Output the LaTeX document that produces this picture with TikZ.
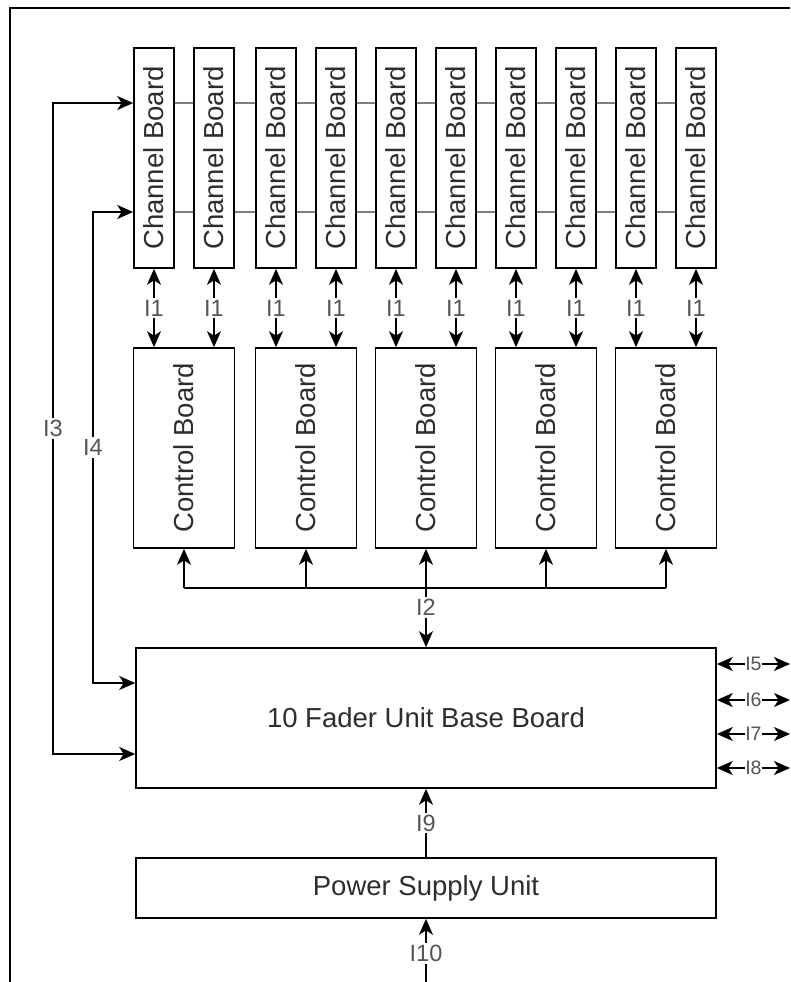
\documentclass[tikz,border=0pt]{standalone}
\usepackage{fontspec}
\setmainfont{Liberation Sans}
\usepackage{graphicx}
\usetikzlibrary{arrows.meta,positioning,calc}
\definecolor{TextGray}{RGB}{45,45,45}
\definecolor{LabelGray}{RGB}{85,85,85}
\definecolor{BusGray}{RGB}{125,125,125}

\begin{document}
\begin{tikzpicture}[x=1pt,y=-1pt,
    board/.style={draw, line width=1.6pt, inner sep=0pt, text=TextGray, font=\fontsize{27.5}{30}\selectfont},
    conn/.style={line width=1.6pt},
    arr/.style={conn, -{Stealth[length=16pt,width=14pt,inset=4.5pt]}},
    biarr/.style={conn, {Stealth[length=16pt,width=14pt,inset=4.5pt]}-{Stealth[length=16pt,width=14pt,inset=4.5pt]}},
    bus/.style={line width=2.2pt, BusGray},
    lbl/.style={fill=white, inner sep=2pt, text=LabelGray, font=\fontsize{23.5}{25}\selectfont},
    lblsmall/.style={fill=white, inner sep=0.5pt, text=LabelGray, font=\fontsize{19.5}{21}\selectfont}]
  \useasboundingbox (0,0) rectangle (790,982);
  \draw[line width=1.8pt] (790,8) -- (10,8) -- (10,982);

  % boards
  \foreach \x [count=\i] in {154,214,276,336,396,456,516,576,636,696}
    \node[board, minimum width=40pt, minimum height=220pt] (cb\i) at (\x,158) {\rotatebox{90}{Channel Board}};
  \foreach \x [count=\i] in {184,306,426,546,666}
    \node[board, minimum width=101pt, minimum height=200pt] (ctl\i) at (\x,448) {\rotatebox{90}{Control Board}};
  \node[board, minimum width=580pt, minimum height=140pt] (base) at (426,718) {10 Fader Unit Base Board};
  \node[board, minimum width=580pt, minimum height=60pt] (psu) at (426,888) {Power Supply Unit};

  \coordinate (busA) at (0,103);
  \coordinate (busB) at (0,212);
  \coordinate (ctlbus) at (0,588);
  \coordinate (lead3) at (53,754);
  \coordinate (lead4) at (93,683);
  \coordinate (mains) at (426,982);

  % channel board buses
  \foreach \j [count=\i] in {2,...,10} {
    \draw[bus] (cb\i.east |- busA) -- (cb\j.west |- busA);
    \draw[bus] (cb\i.east |- busB) -- (cb\j.west |- busB);
  }
  \draw[biarr] (cb1.west |- busA) -| node[lbl, pos=0.75] {I3} (lead3) -- (base.west |- lead3);
  \draw[biarr] (cb1.west |- busB) -| node[lbl, pos=0.75] {I4} (lead4) -- (base.west |- lead4);

  % I1
  \foreach \i in {1,...,10}
    \draw[biarr] (cb\i.south) -- node[lbl] {I1} (cb\i.south |- ctl1.north);

  % I2
  \foreach \i in {1,...,5}
    \draw[arr] (ctl\i.south |- ctlbus) -- (ctl\i.south);
  \draw[conn] (ctl1.south |- ctlbus) -- (ctl5.south |- ctlbus);
  \draw[arr] (ctl3.south |- ctlbus) -- node[lbl, pos=0.33] {I2} (ctl3.south |- base.north);

  % outputs
  \foreach \n/\y in {5/664,6/700,7/734,8/768} {
    \coordinate (out\n) at (790,\y);
    \draw[biarr] (base.east |- out\n) -- node[lblsmall] {I\n} (out\n);
  }

  % power
  \draw[arr] (psu.north) -- node[lbl] {I9} (base.south);
  \draw[arr] (mains) -- node[lbl, pos=0.45] {I10} (psu.south);
\end{tikzpicture}
\end{document}
